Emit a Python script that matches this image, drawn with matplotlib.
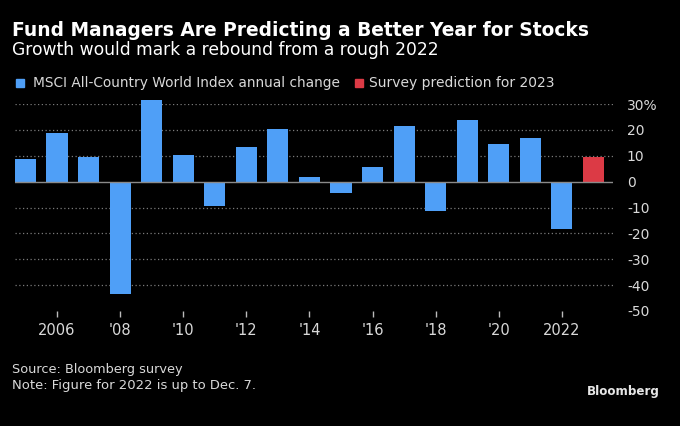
import matplotlib
matplotlib.use('Agg')
import matplotlib.pyplot as plt
from matplotlib.patches import Rectangle

years = list(range(2005, 2023))
msci_change = [8.7, 18.7, 9.6, -43.5, 31.4, 10.4, -9.6, 13.5, 20.3, 1.9,
               -4.4, 5.5, 21.5, -11.2, 23.8, 14.4, 16.7, -18.2]
survey_year = [2023]
survey_value = [9.7]

tick_years = [2006, 2008, 2010, 2012, 2014, 2016, 2018, 2020, 2022]
tick_labels = ['2006', "'08", "'10", "'12", "'14", "'16", "'18", "'20", '2022']
y_ticks = [30, 20, 10, 0, -10, -20, -30, -40, -50]
y_labels = ['30%', '20', '10', '0', '-10', '-20', '-30', '-40', '-50']

BLUE = '#4f9ff7'
RED = '#dc3a45'
GRID = '#7a7a7a'
TXT = '#d9d9d9'

W, H = 680, 426

fig = plt.figure(figsize=(6.8, 4.26), dpi=100, facecolor='black')
ax = fig.add_axes([15 / W, 1 - 311 / H, 598 / W, 207 / H], facecolor='black')

ax.bar(years, msci_change, width=0.67, color=BLUE, zorder=3, clip_on=False)
ax.bar(survey_year, survey_value, width=0.67, color=RED, zorder=3, clip_on=False)

ax.set_xlim(2004.67, 2023.62)
ax.set_ylim(-50, 30)

for y in y_ticks:
    if y == 0 or y == -50:
        continue
    ax.axhline(y, color=GRID, lw=0.9, ls=(0, (1, 2)), zorder=1)
ax.axhline(0, color='#8a8a8a', lw=1, zorder=4)

for s in ax.spines.values():
    s.set_visible(False)

ax.yaxis.tick_right()
ax.set_yticks(y_ticks)
ax.set_yticklabels(y_labels)
ax.tick_params(axis='y', length=0, pad=10, labelsize=10, labelcolor=TXT)

ax.set_xticks(tick_years)
ax.set_xticklabels(tick_labels)
ax.tick_params(axis='x', length=4.5, width=1, color='#bbbbbb', pad=4,
               labelsize=10.5, labelcolor=TXT)


def put(x, y, s, width, **kw):
    # place a text and remember the pixel width it should have
    t = fig.text(x / W, 1 - y / H, s, va='center', **kw)
    t._want = width
    return t


texts = [
    put(12, 30, 'Fund Managers Are Predicting a Better Year for Stocks', 576,
        color='white', fontsize=14, fontweight='bold'),
    put(12, 50, 'Growth would mark a rebound from a rough 2022', 425,
        color='white', fontsize=12),
    put(33, 83, 'MSCI All-Country World Index annual change', 307,
        color=TXT, fontsize=10),
    put(369, 83, 'Survey prediction for 2023', 185, color=TXT, fontsize=10),
    put(12, 369, 'Source: Bloomberg survey', 171, color=TXT, fontsize=10),
    put(12, 386, 'Note: Figure for 2022 is up to Dec. 7.', 242, color=TXT,
        fontsize=10),
    put(660, 391, 'Bloomberg', 73, color='#e6e6e6', fontsize=10,
        fontweight='heavy', ha='right'),
]

fig.patches.append(Rectangle((16 / W, 1 - 87 / H), 8 / W, 8 / H,
                             transform=fig.transFigure, color=BLUE, figure=fig))
fig.patches.append(Rectangle((355 / W, 1 - 87 / H), 8 / W, 8 / H,
                             transform=fig.transFigure, color=RED, figure=fig))

# shrink or grow each text so its width matches the reference
fig.canvas.draw()
r = fig.canvas.get_renderer()
for t in texts:
    w = t.get_window_extent(r).width
    t.set_fontsize(t.get_fontsize() * t._want / w)

fig.savefig('out.png', dpi=100, facecolor='black')
